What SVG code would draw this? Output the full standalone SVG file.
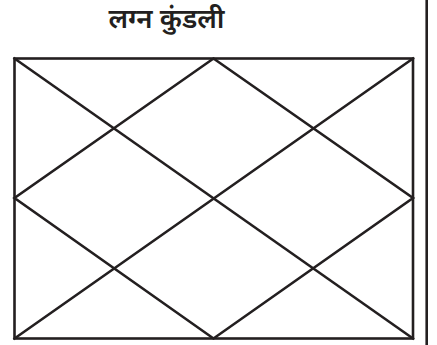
<svg xmlns="http://www.w3.org/2000/svg" width="437" height="345" viewBox="0 0 437 345">
<style>
.ln{stroke:#231f20;stroke-width:2.6;fill:none;stroke-linecap:square}
.t{font-family:"Noto Sans Devanagari","Noto Sans","Lohit Devanagari",sans-serif;font-size:27.5px;font-weight:600;fill:#231f20}
</style>
<rect width="437" height="345" fill="#fff"/>
<text class="t" x="166.5" y="28" text-anchor="middle">लग्न कुंडली</text>
<line class="ln" x1="426.7" y1="0" x2="426.7" y2="345"/>
<g id="chart">
<rect class="ln" x="14.5" y="58.5" width="398.5" height="280"/>
</g>
<g id="connectors">
<line class="ln" x1="14.5" y1="58.5" x2="413" y2="338.5"/>
<line class="ln" x1="413" y1="58.5" x2="14.5" y2="338.5"/>
<polygon class="ln" points="213.5,58.5 413,198 213.5,338.5 14.5,198"/>
</g>
</svg>
